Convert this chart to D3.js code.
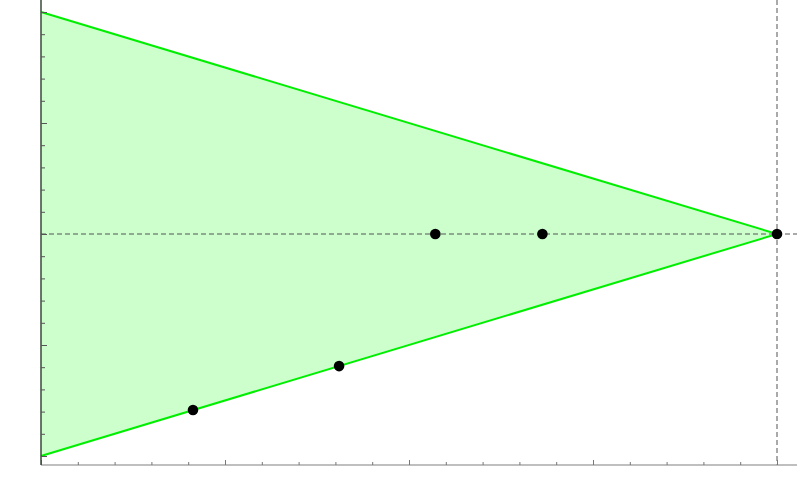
<!DOCTYPE html>
<html><head><meta charset="utf-8">
<script src="https://cdn.jsdelivr.net/npm/d3@7"></script>
<style>body{margin:0;background:#fff}svg{display:block}</style>
</head><body>
<svg id="c" width="797" height="494"></svg>
<script>
// Data
const triangle = [[0, 1], [4, 0], [0, -1]];        // cone region vertices
const upperLine = [[0, 1], [4, 0]];
const lowerLine = [[0, -1], [4, 0]];
const pointsX = [0.826, 1.62, 2.143, 2.725, 4];
const pointsY = [-0.793, -0.595, 0, 0, 0];
const xTicks = d3.range(0, 4.0001, 0.2).map(v => +v.toFixed(1));
const yTicks = d3.range(-1, 1.0001, 0.1).map(v => +v.toFixed(1));
const xMajor = [0, 1, 2, 3, 4];
const yMajor = [-1, -0.5, 0, 0.5, 1];

const W = 797, H = 494;
const svg = d3.select("#c");
const x = d3.scaleLinear().domain([0, 4]).range([41, 777]);
const y = d3.scaleLinear().domain([-1, 1]).range([456, 12]);
const axisY = 465;

// fill
svg.append("path")
  .attr("d", d3.line().x(d => x(d[0])).y(d => y(d[1]))(triangle) + "Z")
  .attr("fill", "#ccffcc");

// dashed reference lines
svg.append("line").attr("x1", x(0)).attr("x2", W).attr("y1", y(0)).attr("y2", y(0))
  .attr("stroke", "#555").attr("stroke-width", 1).attr("stroke-dasharray", "5,3");
svg.append("line").attr("x1", x(4)).attr("x2", x(4)).attr("y1", 0).attr("y2", axisY)
  .attr("stroke", "#555").attr("stroke-width", 1).attr("stroke-dasharray", "5,3");

// boundary lines
const ln = d3.line().x(d => x(d[0])).y(d => y(d[1]));
[upperLine, lowerLine].forEach(l => svg.append("path").attr("d", ln(l))
  .attr("fill", "none").attr("stroke", "#00ee00").attr("stroke-width", 2));

// x axis
const xa = svg.append("g").attr("transform", `translate(0,${axisY})`)
  .call(d3.axisTop(x).tickValues(xTicks).tickFormat("").tickSize(3).tickSizeOuter(0));
xa.select(".domain").attr("d", `M${x(0)},0H${W}`).attr("stroke", "#aaa").attr("stroke-width", 1.5);
xa.selectAll(".tick line").attr("stroke", "#777")
  .attr("y2", d => xMajor.includes(d) ? -5 : -3);

// y axis
const ya = svg.append("g").attr("transform", `translate(${x(0)},0)`)
  .call(d3.axisRight(y).tickValues(yTicks).tickFormat("").tickSize(4).tickSizeOuter(0));
ya.select(".domain").attr("d", `M0,0V${axisY}`).attr("stroke", "#3a4a3a").attr("stroke-width", 1.5);
ya.selectAll(".tick line").attr("stroke", "#555").attr("x2", d => yMajor.includes(d) ? 6 : 4);

// points
svg.append("g").selectAll("circle").data(pointsX.map((v, i) => [v, pointsY[i]]))
  .join("circle").attr("cx", d => x(d[0])).attr("cy", d => y(d[1])).attr("r", 5.3)
  .attr("fill", "#000");
</script>
</body></html>
